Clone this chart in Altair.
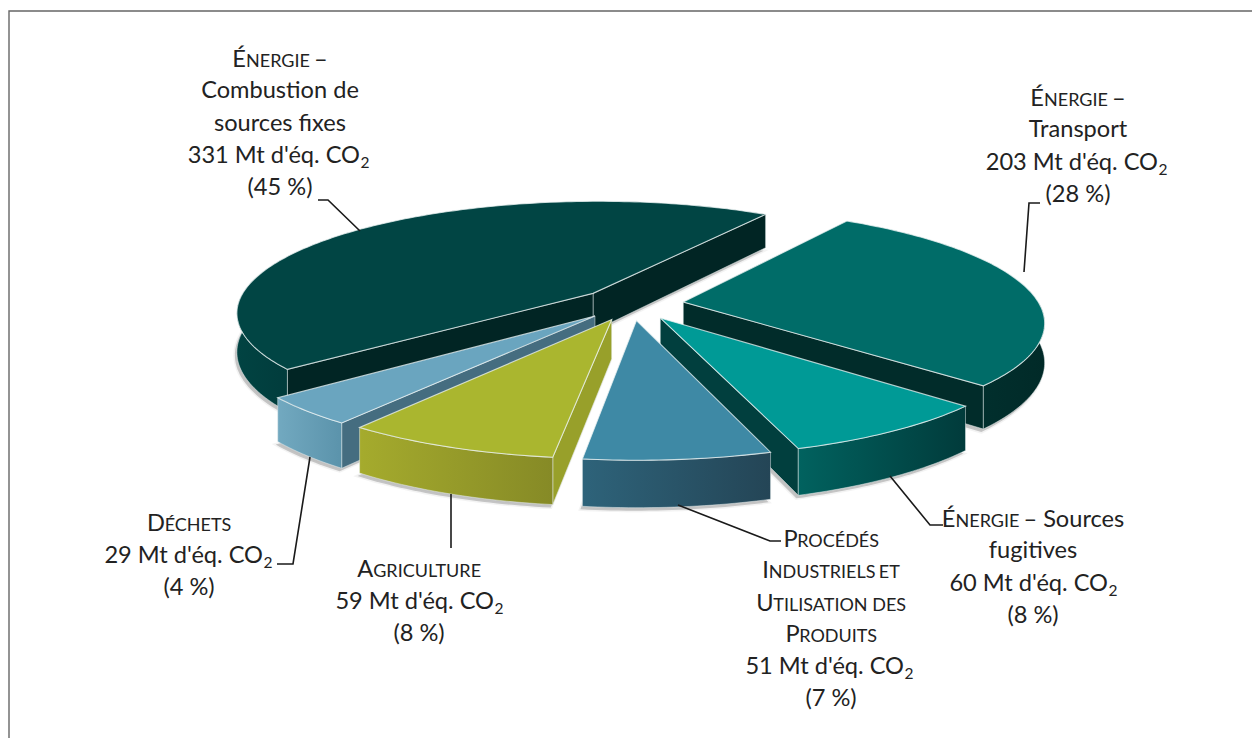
import math
import altair as alt

# Emissions by sector, clockwise from the "Transport" slice
SECTOR_KEYS = ["transport", "fugitives", "procedes", "agriculture", "dechets", "combustion"]
EMISSIONS_MT = [203, 60, 51, 59, 29, 331]
SHARES_PCT = [28, 8, 7, 8, 4, 45]

# Pie camera: start bearing, explosion, perspective and extrusion
START_DEG = 57.0
CENTRE = (631.5, 304.0)
RADIUS_X, RADIUS_Y = 356.0, 110.5
PERSPECTIVE = 0.165
EXPLODE = 0.147
DEPTH = 38.5

# Colours per slice: top face, radial wall, outer wall gradient
STYLE = {
    "combustion": ("#014544", "#012524", ("#014342", "#013c3c")),
    "transport": ("#006c68", "#012c2a", ("#012f2d", "#012a28")),
    "fugitives": ("#009a96", "#013f3e", ("#01625f", "#013b3b")),
    "procedes": ("#3e89a5", "#2b5a6e", ("#2e637a", "#244556")),
    "agriculture": ("#aab62f", "#98a02a", ("#a5ab2d", "#868a26")),
    "dechets": ("#6aa5bf", "#456d80", ("#72a9c0", "#5b93ab")),
}
PAINT_ORDER = ["combustion", "transport", "fugitives", "dechets", "agriculture", "procedes"]


def project(x, y, z=0.0):
    f = 1.0 / (1.0 + PERSPECTIVE * y)
    return [CENTRE[0] + RADIUS_X * x * f, CENTRE[1] - RADIUS_Y * y * f + DEPTH * z * f]


def slice_geometry():
    total = sum(EMISSIONS_MT)
    out = {}
    angle = START_DEG
    for key, mt in zip(SECTOR_KEYS, EMISSIONS_MT):
        sweep = 360.0 * mt / total
        a0, a1 = angle, angle - sweep
        mid = math.radians((a0 + a1) / 2)
        ox, oy = EXPLODE * math.cos(mid), EXPLODE * math.sin(mid)
        n = max(8, int(sweep))
        rim, front = [], []
        for i in range(n + 1):
            t = math.radians(a0 + (a1 - a0) * i / n)
            p = (ox + math.cos(t), oy + math.sin(t))
            rim.append(p)
            # only the part of the rim that faces the viewer gets a wall
            if math.sin(t) <= 0:
                front.append(p)
        out[key] = ((ox, oy), rim, front)
        angle = a1
    return out


def polygon(points, offset=(0, 0)):
    ring = [[p[0] + offset[0], p[1] + offset[1]] for p in points]
    ring.append(ring[0])
    return {"type": "Feature", "properties": {}, "geometry": {"type": "Polygon", "coordinates": [ring]}}


def polyline(points):
    return {"type": "Feature", "properties": {},
            "geometry": {"type": "LineString", "coordinates": [list(p) for p in points]}}


def shape(feature, **mark):
    data = alt.InlineData(values={"type": "FeatureCollection", "features": [feature]},
                          format=alt.DataFormat(property="features", type="json"))
    return alt.Chart(data).mark_geoshape(**mark).project("identity", scale=1, translate=[0, 0])


def side_gradient(c0, c1):
    return alt.Gradient(gradient="linear", x1=0, y1=0, x2=1, y2=0,
                        stops=[alt.GradientStop(offset=0, color=c0), alt.GradientStop(offset=1, color=c1)])


layers = []
geometry = slice_geometry()

# Soft ground shadow below every slice
for key in PAINT_ORDER:
    (ox, oy), rim, _ = geometry[key]
    outline = [project(ox, oy, 1)] + [project(x, y, 1) for x, y in rim]
    layers.append(shape(polygon(outline, (-2, 3)), fill="#777777", opacity=0.45, stroke="#999999",
                        strokeWidth=3, strokeOpacity=0.25))

edge = dict(stroke="#e6eeee", strokeWidth=0.9, strokeOpacity=0.55)
for key in PAINT_ORDER:
    (ox, oy), rim, front = geometry[key]
    top_col, radial_col, (g0, g1) = STYLE[key]
    apex_x = project(ox, oy)[0]
    # a radial face shows only when it turns towards the viewer
    if project(*rim[-1])[0] > apex_x:
        end = rim[-1]
        quad = [project(ox, oy), project(*end), project(end[0], end[1], 1), project(ox, oy, 1)]
        layers.append(shape(polygon(quad), fill=radial_col, **edge))
    if project(*rim[0])[0] < apex_x:
        end = rim[0]
        quad = [project(ox, oy), project(*end), project(end[0], end[1], 1), project(ox, oy, 1)]
        layers.append(shape(polygon(quad), fill=radial_col, **edge))
    wall = [project(x, y) for x, y in front] + [project(x, y, 1) for x, y in reversed(front)]
    layers.append(shape(polygon(wall), fill=side_gradient(g0, g1), **edge))
    top = [project(ox, oy)] + [project(x, y) for x, y in rim]
    layers.append(shape(polygon(top), fill=top_col, stroke="#eef4f4", strokeWidth=1.1, strokeOpacity=0.75))

# Leader lines from labels to slices
LEADERS = [
    [(318, 200), (328, 200), (360, 231)],
    [(1040, 203), (1029, 203), (1024, 272)],
    [(890, 476), (930, 525), (943, 525)],
    [(678, 505), (770, 541), (781, 541)],
    [(451, 494), (451, 548)],
    [(310, 457), (293, 564), (277, 564)],
]
for pts in LEADERS:
    layers.append(shape(polyline(pts), filled=False, stroke="#1a1a1a", strokeWidth=1.6))

# Frame along the top and left of the figure
FRAME = [(9, 738), (9, 11), (1252, 11)]
layers.append(shape(polyline(FRAME), filled=False, stroke="#666666", strokeWidth=1.4))

# Text: approximate advance widths (em) to centre mixed small-caps runs
ADV = dict(zip("ÉAÀCDEGHILNOPRSTU–", [.58, .68, .68, .65, .75, .58, .71, .75, .27, .49, .75, .80, .58, .62, .54, .58, .73, .58]))
LOWER = dict(zip("ourcesfgtivxp ", [.58, .56, .37, .48, .53, .43, .33, .51, .35, .25, .50, .50, .58, .2]))
BIG, SMALL, SUB = 23.6, 18.0, 15.5
FONT = "Lato"
INK = "#222222"


def run_width(txt, size):
    return sum(ADV.get(c, LOWER.get(c, .52)) for c in txt) * size


def sc_runs(words):
    """Split words into initial-capital and small-capital runs."""
    runs = []
    for w in words:
        runs.append((w[0], BIG))
        if len(w) > 1:
            runs.append((w[1:], SMALL))
    return runs


text_rows = []


def add_run(x, y, txt, size, align="left"):
    text_rows.append({"x": x, "y": y, "t": txt, "s": size, "a": align})


def sc_line(cx, y, runs):
    total = sum(run_width(t, s) for t, s in runs)
    x = cx - total / 2
    for t, s in runs:
        # SVG drops leading blanks, so they only advance the pen
        lead = len(t) - len(t.lstrip(" "))
        if t.strip():
            add_run(x + run_width(t[:lead], s), y, t.strip(), s)
        x += run_width(t, s)


def co2_line(cx, y, mt):
    right = cx + 80
    add_run(right, y, f"{mt} Mt d'éq. CO", BIG, "right")
    add_run(right + 0.5, y + 5, "2", SUB)


def plain(cx, y, txt):
    add_run(cx, y, txt, BIG, "center")


MT = dict(zip(SECTOR_KEYS, EMISSIONS_MT))
PCT = dict(zip(SECTOR_KEYS, SHARES_PCT))

# Combustion
sc_line(280, 67, sc_runs(["ÉNERGIE"]) + [(" –", BIG)])
plain(280, 98, "Combustion de")
plain(280, 131, "sources fixes")
co2_line(280, 163, MT["combustion"])
plain(280, 195, f"({PCT['combustion']} %)")
# Transport
sc_line(1078, 106, sc_runs(["ÉNERGIE"]) + [(" –", BIG)])
plain(1078, 137, "Transport")
co2_line(1078, 170, MT["transport"])
plain(1078, 202, f"({PCT['transport']} %)")
# Fugitive sources
sc_line(1033, 527, sc_runs(["ÉNERGIE"]) + [(" – Sources", BIG)])
plain(1033, 558, "fugitives")
co2_line(1028, 591, MT["fugitives"])
plain(1033, 623, f"({PCT['fugitives']} %)")
# Industrial processes
sc_line(831, 547, sc_runs(["PROCÉDÉS"]))
sc_line(831, 578, sc_runs(["INDUSTRIELS"]) + [(" ", BIG), ("ET", SMALL)])
sc_line(831, 611, sc_runs(["UTILISATION"]) + [(" ", BIG), ("DES", SMALL)])
sc_line(831, 642, sc_runs(["PRODUITS"]))
co2_line(824, 674, MT["procedes"])
plain(831, 706, f"({PCT['procedes']} %)")
# Agriculture
sc_line(419, 577, sc_runs(["AGRICULTURE"]))
co2_line(414, 609, MT["agriculture"])
plain(419, 641, f"({PCT['agriculture']} %)")
# Waste
sc_line(189, 531, sc_runs(["DÉCHETS"]))
co2_line(183, 563, MT["dechets"])
plain(189, 595, f"({PCT['dechets']} %)")

for align in ("left", "center", "right"):
    rows = [r for r in text_rows if r["a"] == align]
    if not rows:
        continue
    layers.append(
        alt.Chart(alt.Data(values=rows)).mark_text(font=FONT, color=INK, align=align, baseline="alphabetic").encode(
            x=alt.X("x:Q", scale=alt.Scale(domain=[0, 1252], range=[0, 1252]), axis=None),
            y=alt.Y("y:Q", scale=alt.Scale(domain=[0, 738], range=[0, 738]), axis=None),
            text="t:N",
            size=alt.Size("s:Q", scale=None, legend=None),
        )
    )

chart = alt.layer(*layers).properties(
    width=1252, height=738, padding=0, autosize=alt.AutoSizeParams(type="none"),
    background="white",
).configure_view(stroke=None)

chart.save("out.html", embed_options={"renderer": "svg", "actions": False})
